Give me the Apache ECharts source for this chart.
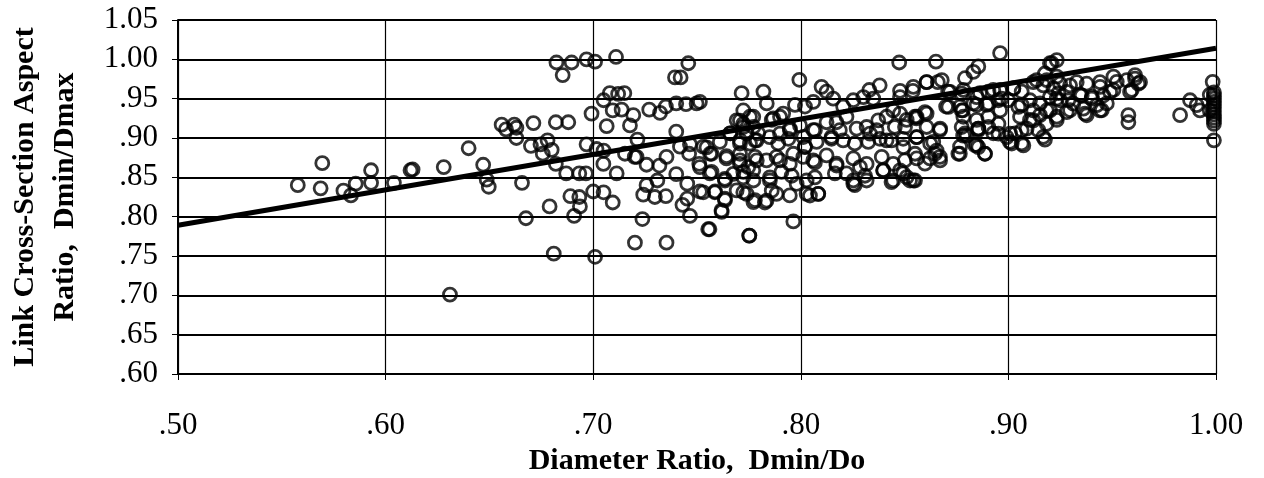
<!DOCTYPE html>
<html>
<head>
<meta charset="utf-8">
<script src="https://cdn.jsdelivr.net/npm/echarts@6/dist/echarts.min.js"></script>
<style>
html,body{margin:0;padding:0;background:#fff;}
#c{width:1264px;height:478px;}
</style>
</head>
<body>
<div id="c"></div>
<script>
// ---- Data ----
var xTickLabels = ['.50', '.60', '.70', '.80', '.90', '1.00'];
var yTickLabels = ['.60', '.65', '.70', '.75', '.80', '.85', '.90', '.95', '1.00', '1.05'];
var xAxisTitle = 'Diameter Ratio,  Dmin/Do';
var yAxisTitle = 'Link Cross-Section Aspect\nRatio,  Dmin/Dmax';

// regression line end points
var trendX = [0.50, 1.00];
var trendY = [0.789, 1.014];

// scatter points [Dmin/Do, Dmin/Dmax]
var ptsLow = [
 [0.5577,0.840],[0.5695,0.868],[0.5687,0.836],[0.5797,0.833],[0.5833,0.827],[0.5856,0.842],
 [0.593,0.859],[0.593,0.843],[0.604,0.843],[0.612,0.859],[0.613,0.860],[0.628,0.863],[0.631,0.701],
 [0.640,0.887],[0.647,0.866],[0.6487,0.847],[0.6497,0.838],[0.6559,0.917],[0.658,0.911],[0.662,0.917],
 [0.663,0.913],[0.663,0.900],[0.6657,0.843],[0.6676,0.798],[0.6712,0.919],[0.670,0.890],[0.6746,0.892],
 [0.6757,0.880],[0.678,0.897],[0.680,0.885],[0.682,0.920],[0.688,0.920],[0.682,0.867],[0.679,0.813],
 [0.681,0.753],[0.687,0.855],[0.6933,0.855],[0.6965,0.855],[0.689,0.826],[0.6933,0.825],[0.6936,0.813],
 [0.6908,0.801],[0.6823,0.996],[0.6853,0.980],[0.6896,0.996],[0.6968,1.000],[0.7009,0.997],[0.6968,0.892],
 [0.6992,0.931],[0.700,0.832],[0.7009,0.749]
];
var ptsSeventies = [
 [0.711,1.003],[0.7458,0.995],[0.7394,0.977],[0.7421,0.977],[0.708,0.957],[0.712,0.956],[0.715,0.957],
 [0.705,0.948],[0.7094,0.935],[0.7137,0.936],[0.7193,0.929],[0.7065,0.915],[0.7177,0.916],[0.727,0.936],
 [0.7322,0.932],[0.735,0.940],[0.740,0.944],[0.7447,0.943],[0.7498,0.944],[0.7715,0.957],[0.740,0.908],
 [0.7213,0.898],[0.705,0.884],[0.7153,0.880],[0.7049,0.867],[0.7113,0.855],[0.720,0.876],[0.7257,0.866],
 [0.7319,0.865],[0.7353,0.876],[0.7418,0.889],[0.7466,0.892],[0.7462,0.880],[0.740,0.854],[0.7453,0.842],
 [0.7309,0.846],[0.7257,0.840],[0.7241,0.828],[0.7297,0.825],[0.735,0.826],[0.705,0.831],[0.7094,0.818],
 [0.7237,0.797],[0.7201,0.767],[0.7353,0.767],[0.743,0.815],[0.7466,0.801],[0.7453,0.823],[0.7511,0.867],
 [0.7514,0.832],[0.7563,0.880],[0.7546,0.888],[0.757,0.857],[0.7587,0.832],[0.7635,0.821],[0.7619,0.806],
 [0.756,0.784],[0.7752,0.776],[0.7642,0.877],[0.766,0.906],[0.7635,0.846],[0.7723,0.935],[0.7707,0.922],
 [0.7771,0.927],[0.7016,0.886],[0.7209,0.876],
 [0.7691,0.9225],[0.7723,0.914],[0.7739,0.9055],[0.7772,0.914],[0.7707,0.897],[0.7755,0.8928],[0.7788,0.897],
 [0.7707,0.8715],[0.7747,0.863],[0.7788,0.8715],[0.7675,0.8545],[0.7723,0.850],[0.7772,0.846],[0.7691,0.8333],
 [0.7739,0.829],[0.7772,0.8184],[0.7707,0.880]
];
var ptsEighties = [
 [0.790,0.9055],[0.7948,0.910],[0.8012,0.9013],[0.8068,0.910],[0.790,0.8715],[0.7964,0.880],[0.802,0.8885],
 [0.806,0.8715],[0.8148,0.9013],[0.8188,0.910],[0.8172,0.8673],[0.8285,0.863],[0.8333,0.9055],[0.8373,0.9225],
 [0.8445,0.935],[0.8413,0.897],[0.8397,0.8588],[0.8317,0.846],[0.8253,0.8418],[0.7851,0.846],[0.7883,0.829],
 [0.798,0.8418],[0.8044,0.8269],[0.8084,0.829],[0.7835,0.8205],
 [0.766,0.906],[0.7723,0.918],[0.7795,0.906],[0.786,0.923],[0.790,0.927],[0.7947,0.912],[0.7996,0.916],
 [0.806,0.910],[0.8124,0.920],[0.8172,0.920],[0.822,0.927],[0.8269,0.912],[0.8317,0.914],[0.8365,0.910],
 [0.8413,0.927],[0.8453,0.914],[0.851,0.923],[0.8558,0.927],[0.8606,0.931],[0.867,0.910],[0.8782,0.903],[0.8855,0.910],
 [0.753,0.889],[0.761,0.895],[0.7707,0.893],[0.778,0.897],[0.785,0.901],[0.7891,0.893],[0.794,0.899],
 [0.802,0.889],[0.8076,0.895],[0.8148,0.899],[0.8204,0.897],[0.826,0.893],[0.8325,0.895],[0.8381,0.899],
 [0.8437,0.897],[0.8493,0.899],[0.8558,0.901],[0.8638,0.895],[0.8654,0.884],[0.8766,0.880],[0.8847,0.891],
 [0.757,0.880],[0.7642,0.874],[0.7707,0.867],[0.778,0.876],[0.7835,0.8715],[0.7883,0.876],[0.7947,0.867],
 [0.8012,0.876],[0.8068,0.869],[0.8124,0.878],[0.8172,0.865],[0.8253,0.874],[0.8317,0.867],[0.839,0.876],
 [0.8445,0.867],[0.8501,0.8715],[0.8558,0.874],[0.8622,0.874],[0.867,0.876],
 [0.7514,0.863],[0.7562,0.855],[0.7634,0.848],[0.7723,0.857],[0.7771,0.859],[0.7851,0.850],[0.7907,0.857],
 [0.7956,0.852],[0.8028,0.846],[0.8068,0.850],[0.8164,0.855],[0.822,0.855],[0.8253,0.846],[0.8309,0.852],
 [0.8397,0.859],[0.8445,0.846],[0.8493,0.855],[0.855,0.846],
 [0.753,0.831],[0.7586,0.831],[0.7634,0.823],[0.7723,0.831],[0.7779,0.821],[0.7827,0.818],[0.786,0.833],
 [0.7947,0.827],[0.8028,0.829],[0.8084,0.829],[0.826,0.840],[0.8437,0.844],[0.8526,0.846],
 [0.7618,0.808],[0.7554,0.784],[0.7752,0.776],[0.7964,0.794],
 [0.8474,0.996],[0.8651,0.997],[0.7993,0.974],[0.782,0.959],[0.7836,0.944],[0.871,0.959],
 [0.838,0.967],[0.833,0.961],[0.810,0.965],[0.8124,0.959],[0.8606,0.971],[0.866,0.971],[0.8478,0.960],
 [0.854,0.960],[0.870,0.940],[0.878,0.935],[0.8557,0.925],[0.7514,0.946],[0.7755,0.927],[0.7867,0.925],
 [0.7915,0.931],[0.7972,0.942],[0.802,0.940],[0.806,0.946],[0.8156,0.950],[0.8204,0.940],[0.8253,0.948],
 [0.8301,0.952],[0.8349,0.950]
];
var ptsNineties = [
 [0.896,1.008],[0.8855,0.991],[0.8831,0.984],[0.8791,0.976],[0.9233,0.999],[0.920,0.995],[0.9176,0.982],
 [0.8783,0.961],[0.8863,0.957],[0.8927,0.961],[0.8967,0.950],[0.9024,0.963],[0.9064,0.959],[0.912,0.971],
 [0.9168,0.967],[0.9217,0.963],[0.9249,0.969],[0.9297,0.967],[0.9329,0.971],[0.9377,0.969],[0.9441,0.971],
 [0.9506,0.978],[0.957,0.9735],[0.961,0.980],[0.9634,0.971],[0.9594,0.961],
 [0.8767,0.940],[0.8831,0.944],[0.8895,0.942],[0.896,0.935],[0.900,0.948],[0.9064,0.942],[0.9104,0.948],
 [0.9152,0.944],[0.920,0.952],[0.9241,0.957],[0.9289,0.948],[0.9353,0.954],[0.9401,0.950],[0.9457,0.954],[0.9506,0.961],
 [0.8783,0.927],[0.8847,0.923],[0.8903,0.927],[0.8952,0.918],[0.9056,0.927],[0.9104,0.923],[0.9152,0.929],
 [0.920,0.935],[0.9233,0.927],[0.9281,0.933],[0.9369,0.931],[0.9441,0.935],[0.9474,0.944],
 [0.8791,0.906],[0.8855,0.912],[0.8927,0.906],[0.8992,0.901],[0.9032,0.906],[0.9088,0.912],[0.9144,0.910],
 [0.9184,0.918],[0.9233,0.923],
 [0.8767,0.889],[0.8839,0.891],[0.8887,0.880],[0.9007,0.895],[0.9064,0.893],[0.9176,0.898],
 [0.8478,0.952],[0.8542,0.965],[0.8606,0.971],[0.8679,0.9735],[0.8719,0.9586],[0.8775,0.9565],[0.8847,0.952],
 [0.8904,0.959],[0.8960,0.961],[0.9024,0.963],[0.9136,0.9735],[0.9185,0.9735],[0.9233,0.978],[0.9209,0.995],
 [0.8478,0.931],[0.855,0.927],[0.8598,0.933],[0.8711,0.9395],[0.8775,0.935],[0.8847,0.942],[0.8904,0.944],
 [0.8952,0.948],[0.9048,0.9395],[0.912,0.935],[0.9185,0.935],[0.9233,0.950],
 [0.8502,0.914],[0.8558,0.901],[0.8606,0.914],[0.8671,0.912],[0.8775,0.914],[0.8799,0.903],[0.8855,0.912],
 [0.8904,0.914],[0.8952,0.9055],[0.9008,0.9055],[0.9064,0.9098],[0.912,0.9225],[0.9168,0.9013],
 [0.8494,0.8885],[0.855,0.880],[0.8623,0.893],[0.8647,0.880],[0.8671,0.8715],[0.8759,0.880],[0.8855,0.8885],
 [0.8887,0.880],[0.9016,0.893],[0.9072,0.8906],
 [0.8478,0.8588],[0.8542,0.846],[0.8598,0.8673],[0.851,0.8503]
];
var ptsHigh = [
 [0.9522,0.9714],[0.961,0.9756],[0.9626,0.969],[0.9586,0.9586],[0.9442,0.965],[0.9402,0.9523],[0.9345,0.9544],
 [0.9281,0.9586],[0.9361,0.9374],[0.9426,0.9417],[0.945,0.9353],[0.9377,0.9289],[0.9297,0.9353],[0.9249,0.948],
 [0.9313,0.9438],[0.949,0.9586],[0.9578,0.929],[0.9578,0.920],
 [0.9827,0.929],[0.9875,0.948],[0.9907,0.9417],[0.9923,0.935],
 [0.9984,0.9714],[0.999,0.958],[0.999,0.954],[0.999,0.950],[0.999,0.946],[0.999,0.942],[0.999,0.938],
 [0.999,0.934],[0.999,0.930],[0.999,0.926],[0.999,0.922],[0.999,0.918],[0.997,0.955],[0.997,0.935],
 [0.999,0.897]
];

var allPoints = ptsLow.concat(ptsSeventies, ptsEighties, ptsNineties, ptsHigh);
var trendData = trendX.map(function (x, i) { return [x, trendY[i]]; });

function fmt(list, v) {
  var s = (Math.round(v * 100) / 100).toFixed(2);
  if (v < 1) s = s.slice(1);
  return list.indexOf(s) >= 0 ? s : '';
}

var chart = echarts.init(document.getElementById('c'), null, {renderer: 'canvas'});
var serif = '"Liberation Serif", "Times New Roman", serif';
chart.setOption({
  animation: false,
  backgroundColor: '#ffffff',
  grid: {left: 178, right: 48, top: 20, bottom: 104, containLabel: false, outerBoundsMode: 'none'},
  xAxis: {
    type: 'value', min: 0.5, max: 1.0, interval: 0.1,
    name: xAxisTitle, nameLocation: 'middle', nameGap: 66,
    nameTextStyle: {fontFamily: serif, fontWeight: 'bold', fontSize: 30, color: '#000'},
    axisLine: {show: true, lineStyle: {color: '#000', width: 2}},
    axisTick: {show: true, length: 6, lineStyle: {color: '#000', width: 1}},
    axisLabel: {fontFamily: serif, fontSize: 31, color: '#000', margin: 36,
      formatter: function (v) { return fmt(xTickLabels, v); }},
    splitLine: {show: true, lineStyle: {color: '#000', width: 1.2}}
  },
  yAxis: {
    type: 'value', min: 0.6, max: 1.05, interval: 0.05,
    name: yAxisTitle, nameLocation: 'middle', nameGap: 93, nameRotate: 90,
    nameTextStyle: {fontFamily: serif, fontWeight: 'bold', fontSize: 30, color: '#000', lineHeight: 40},
    axisLine: {show: true, lineStyle: {color: '#000', width: 2}},
    axisTick: {show: true, length: 6, lineStyle: {color: '#000', width: 1}},
    axisLabel: {fontFamily: serif, fontSize: 31, color: '#000', margin: 20,
      formatter: function (v) { return fmt(yTickLabels, v); }},
    splitLine: {show: true, lineStyle: {color: '#000', width: 1.8}}
  },
  series: [
    {
      type: 'scatter', data: allPoints, symbol: 'circle', symbolSize: 13,
      itemStyle: {color: 'rgba(255,255,255,0)', borderColor: '#000', borderWidth: 2.8},
      z: 3
    },
    {
      type: 'line', data: trendData, symbol: 'none',
      lineStyle: {color: '#000', width: 5}, z: 4
    }
  ]
});
</script>
</body>
</html>
